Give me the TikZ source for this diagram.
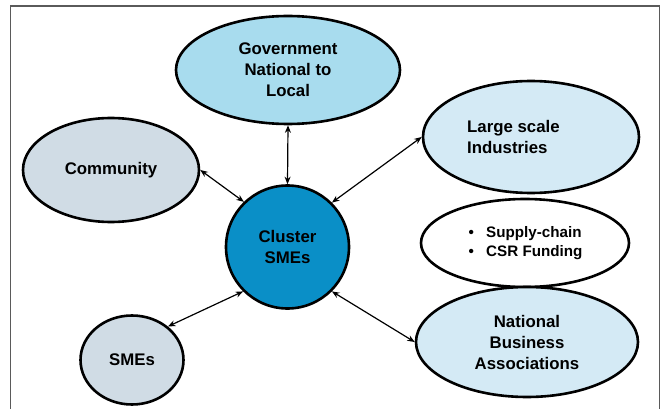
\documentclass[tikz,border=0pt]{standalone}
\usepackage{fontspec}
\setmainfont{Liberation Sans}
\usetikzlibrary{shapes.geometric,arrows.meta}
\definecolor{govblue}{HTML}{A8DCEE}
\definecolor{grayblue}{HTML}{D0DCE5}
\definecolor{paleblue}{HTML}{D4EAF5}
\definecolor{clusterblue}{HTML}{0A8FC7}
\definecolor{framegray}{HTML}{5A5A5A}
\tikzset{
  oval/.style={ellipse, draw=black, line width=2.6pt, inner sep=0pt, font=\fontsize{16.8}{21}\selectfont\bfseries, align=center},
  link/.style={line width=1.2pt, {Stealth[length=7.5pt,width=6pt]}-{Stealth[length=7.5pt,width=6pt]}},
  lbl/.style={font=\fontsize{16.8}{21}\selectfont\bfseries, align=left, inner sep=0pt}
}
\begin{document}
\begin{tikzpicture}[x=1pt,y=-1pt]
\useasboundingbox (0,0) rectangle (667,409);
\draw[framegray, line width=1.4pt] (10.5,420) -- (10.5,6) -- (659.5,6) -- (659.5,420);
\node[oval, fill=govblue, minimum width=224pt, minimum height=108pt] (gov) at (288,70) {Government\\National to\\Local};
\node[oval, fill=grayblue, minimum width=176pt, minimum height=104pt] (com) at (111,170) {Community};
\node[oval, fill=paleblue, minimum width=216pt, minimum height=112pt] (lar) at (531,137) {};
\node[lbl, anchor=west] (lartxt) at (467,137) {Large scale\\Industries};
\node[oval, fill=white, minimum width=208pt, minimum height=88pt] (sup) at (525,243) {};
\node[font=\fontsize{15.2}{19}\selectfont\bfseries, align=left, inner sep=0pt, anchor=west] (suptxt) at (466,243) {\makebox[20pt][l]{\,•}Supply-chain\\\makebox[20pt][l]{\,•}CSR Funding};
\node[oval, fill=paleblue, minimum width=222pt, minimum height=110pt] (nat) at (527,342) {National\\Business\\Associations};
\node[oval, fill=grayblue, minimum width=103pt, minimum height=89pt] (sme) at (132,360) {SMEs};
\node[oval, circle, fill=clusterblue, minimum size=123pt] (clu) at (287.5,247) {Cluster\\SMEs};
\draw[link] (gov.south) -- (clu.north);
\draw[link] (com.east) -- (clu.134);
\draw[link] (lar.west) -- (clu.45);
\draw[link] (sme.43) -- (clu.-135);
\draw[link] (nat.west) -- (clu.-45);
\end{tikzpicture}
\end{document}
